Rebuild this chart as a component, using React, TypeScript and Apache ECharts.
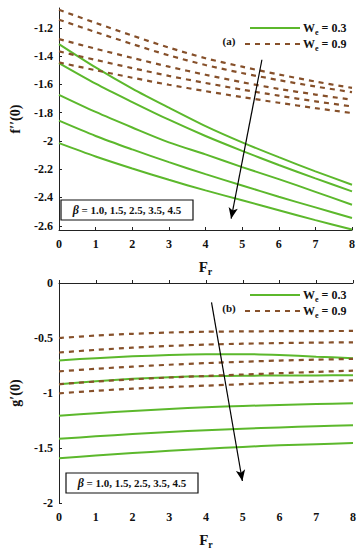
import React, { useEffect, useRef } from "react";
import * as echarts from "echarts";

const xs = [0, 1, 2, 3, 4, 5, 6, 7, 8];

// (a) f''(0), We = 0.3 (solid), beta = 1.0,1.5,2.5,3.5,4.5
const fa03_1 = [-1.315, -1.48, -1.63, -1.765, -1.895, -2.01, -2.115, -2.215, -2.31];
const fa03_2 = [-1.45, -1.595, -1.725, -1.85, -1.965, -2.07, -2.17, -2.265, -2.357];
const fa03_3 = [-1.674, -1.795, -1.905, -2.01, -2.095, -2.185, -2.27, -2.36, -2.451];
const fa03_4 = [-1.857, -1.965, -2.06, -2.15, -2.235, -2.315, -2.395, -2.47, -2.545];
const fa03_5 = [-2.016, -2.11, -2.195, -2.275, -2.35, -2.42, -2.49, -2.56, -2.626];
// (a) We = 0.9 (dashed)
const fa09_1 = [-1.073, -1.165, -1.255, -1.34, -1.415, -1.475, -1.53, -1.58, -1.625];
const fa09_2 = [-1.143, -1.23, -1.315, -1.395, -1.463, -1.52, -1.57, -1.615, -1.655];
const fa09_3 = [-1.28, -1.348, -1.413, -1.475, -1.532, -1.585, -1.632, -1.672, -1.709];
const fa09_4 = [-1.367, -1.427, -1.485, -1.54, -1.59, -1.637, -1.68, -1.72, -1.756];
const fa09_5 = [-1.445, -1.5, -1.553, -1.603, -1.648, -1.69, -1.73, -1.768, -1.803];

// (b) g'(0), We = 0.3 (solid)
const gb03_1 = [-0.704, -0.683, -0.667, -0.655, -0.648, -0.647, -0.655, -0.67, -0.683];
const gb03_2 = [-0.92, -0.893, -0.871, -0.856, -0.847, -0.843, -0.841, -0.84, -0.839];
const gb03_3 = [-1.207, -1.184, -1.164, -1.145, -1.129, -1.118, -1.108, -1.1, -1.093];
const gb03_4 = [-1.416, -1.394, -1.373, -1.354, -1.338, -1.325, -1.313, -1.302, -1.293];
const gb03_5 = [-1.593, -1.569, -1.546, -1.525, -1.506, -1.49, -1.476, -1.465, -1.455];
// (b) We = 0.9 (dashed)
const gb09_1 = [-0.5, -0.478, -0.462, -0.45, -0.443, -0.44, -0.438, -0.437, -0.436];
const gb09_2 = [-0.632, -0.608, -0.588, -0.572, -0.56, -0.552, -0.546, -0.542, -0.539];
const gb09_3 = [-0.803, -0.78, -0.76, -0.743, -0.728, -0.716, -0.705, -0.697, -0.69];
const gb09_4 = [-0.92, -0.896, -0.876, -0.859, -0.845, -0.832, -0.82, -0.808, -0.797];
const gb09_5 = [-1.003, -0.98, -0.961, -0.946, -0.933, -0.92, -0.907, -0.896, -0.885];

const topTicks = [-2.6, -2.4, -2.2, -2, -1.8, -1.6, -1.4, -1.2];
const xTicks = [0, 1, 2, 3, 4, 5, 6, 7, 8];
const arrowA = [[5.54, -1.426], [4.7, -2.55]];
const arrowB = [[4.15, -0.177], [4.99, -1.8]];
const legendLabels = ["0.3", "0.9"];
const betaText = " = 1.0, 1.5, 2.5, 3.5, 4.5";

const GREEN = "#5cb82c";
const BROWN = "#86502a";
const FONT = "Liberation Serif";

export default function App() {
  const ref = useRef<HTMLDivElement>(null);
  useEffect(() => {
    if (!ref.current) return;
    const chart = echarts.init(ref.current, null, { renderer: "svg" });
    const mk = (arr: number[], idx: number, dashed: boolean, extra?: any) => ({
      type: "line",
      xAxisIndex: idx,
      yAxisIndex: idx,
      data: xs.map((x, i) => [x, arr[i]]),
      smooth: 0.3,
      showSymbol: false,
      silent: true,
      lineStyle: dashed
        ? { color: BROWN, width: 2.2, type: [5, 5] }
        : { color: GREEN, width: 2 },
      z: dashed ? 3 : 2,
      ...(extra || {}),
    });
    const arrowML = (a: number[][]) => ({
      markLine: {
        silent: true,
        symbol: ["none", "arrow"],
        symbolSize: [7, 11],
        label: { show: false },
        lineStyle: { color: "#000", width: 1.2, type: "solid" },
        data: [[{ coord: a[0] }, { coord: a[1] }]],
      },
    });
    const axisLab = { fontFamily: FONT, fontWeight: "bold", fontSize: 12, color: "#111" };
    const xName = {
      name: "{a|F}{b|r}",
      nameLocation: "middle",
      nameGap: 27,
      nameTextStyle: {
        rich: {
          a: { fontFamily: FONT, fontWeight: "bold", fontSize: 15, color: "#111" },
          b: { fontFamily: FONT, fontWeight: "bold", fontSize: 10, color: "#111", padding: [9, 0, 0, 0] },
        },
      },
    };
    const xAxisBase = {
      type: "value",
      min: 0,
      max: 8,
      interval: 1,
      axisLine: { lineStyle: { color: "#222", width: 1 } },
      axisTick: { inside: true, length: 3, lineStyle: { color: "#222" } },
      splitLine: { show: false },
      axisLabel: { ...axisLab, margin: 8, customValues: xTicks },
      ...xName,
    };
    const yName = (n: string) => ({
      name: n,
      nameLocation: "middle",
      nameGap: 37,
      nameTextStyle: { fontFamily: FONT, fontWeight: "bold", fontSize: 14, color: "#111" },
    });
    const legendG = (y0: number, lab: string) => {
      const els: any[] = [];
      els.push({ type: "line", shape: { x1: 250, y1: y0, x2: 300, y2: y0 }, style: { stroke: GREEN, lineWidth: 2 } });
      els.push({ type: "line", shape: { x1: 245, y1: y0 + 16, x2: 300, y2: y0 + 16 }, style: { stroke: BROWN, lineWidth: 2.2, lineDash: [5, 5] } });
      const rich = {
        w: { fontFamily: FONT, fontWeight: "bold", fontSize: 12, fill: "#111" },
        e: { fontFamily: FONT, fontWeight: "bold", fontSize: 8, fill: "#111", padding: [8, 0, 0, 0] },
      };
      legendLabels.forEach((v, i) => {
        els.push({
          type: "text",
          x: 303,
          y: y0 + 16 * i,
          style: { text: `{w|W}{e|e}{w| = ${v}}`, rich, verticalAlign: "middle", align: "left" },
        });
      });
      els.push({
        type: "text",
        x: 229,
        y: y0 + 13,
        style: { text: lab, fontFamily: FONT, fontWeight: "bold", fontSize: 11, fill: "#111", align: "center", verticalAlign: "middle" },
      });
      return els;
    };
    const betaBox = (x: number, y: number) => [
      { type: "rect", shape: { x, y, width: 132, height: 20 }, style: { fill: "#fff", stroke: "#111", lineWidth: 1.2 }, z: 10 },
      {
        type: "text",
        x: x + 66,
        y: y + 10,
        z: 11,
        style: {
          text: `{b|β}{t|${betaText}}`,
          align: "center",
          verticalAlign: "middle",
          rich: {
            b: { fontFamily: FONT, fontWeight: "bold", fontStyle: "italic", fontSize: 12, fill: "#111" },
            t: { fontFamily: FONT, fontWeight: "bold", fontSize: 11, fill: "#111" },
          },
        },
      },
    ];
    chart.setOption({
      animation: false,
      backgroundColor: "#fff",
      grid: [
        { left: 46, right: 12, top: 8, height: 222 },
        { left: 46, right: 11, top: 283, height: 223 },
      ],
      xAxis: [
        { ...xAxisBase, gridIndex: 0 },
        { ...xAxisBase, gridIndex: 1 },
      ],
      yAxis: [
        {
          type: "value",
          gridIndex: 0,
          min: -2.63,
          max: -1.06,
          axisLine: { show: true, lineStyle: { color: "#222" } },
          axisTick: { inside: true, length: 3, customValues: topTicks, lineStyle: { color: "#222" } },
          splitLine: { show: false },
          axisLabel: {
            ...axisLab,
            margin: 6,
            customValues: topTicks,
            formatter: (v: number) => String(Math.round(v * 10) / 10),
          },
          ...yName("f′′(0)"),
        },
        {
          type: "value",
          gridIndex: 1,
          min: -2,
          max: 0,
          interval: 0.5,
          axisLine: { show: true, lineStyle: { color: "#222" } },
          axisTick: { inside: true, length: 3, lineStyle: { color: "#222" } },
          splitLine: { show: false },
          axisLabel: { ...axisLab, margin: 6 },
          ...yName("g′(0)"),
        },
      ],
      series: [
        mk(fa03_1, 0, false, arrowML(arrowA)),
        mk(fa03_2, 0, false),
        mk(fa03_3, 0, false),
        mk(fa03_4, 0, false),
        mk(fa03_5, 0, false),
        mk(fa09_1, 0, true),
        mk(fa09_2, 0, true),
        mk(fa09_3, 0, true),
        mk(fa09_4, 0, true),
        mk(fa09_5, 0, true),
        mk(gb03_1, 1, false, arrowML(arrowB)),
        mk(gb03_2, 1, false),
        mk(gb03_3, 1, false),
        mk(gb03_4, 1, false),
        mk(gb03_5, 1, false),
        mk(gb09_1, 1, true),
        mk(gb09_2, 1, true),
        mk(gb09_3, 1, true),
        mk(gb09_4, 1, true),
        mk(gb09_5, 1, true),
      ],
      graphic: [...legendG(28, "(a)"), ...legendG(295, "(b)"), ...betaBox(61, 200), ...betaBox(66, 473)],
    });
    return () => chart.dispose();
  }, []);
  return <div ref={ref} style={{ position: "fixed", left: 0, top: 0, width: 364, height: 550 }} />;
}
